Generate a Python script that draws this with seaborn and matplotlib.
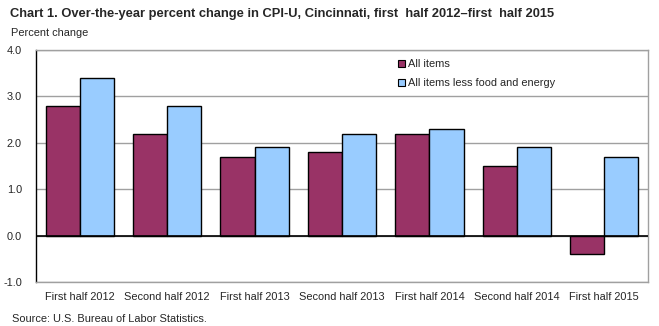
import matplotlib
matplotlib.use("Agg")
import matplotlib.pyplot as plt
import seaborn as sns
import pandas as pd

categories = ["First half 2012", "Second half 2012", "First half 2013", "Second half 2013",
              "First half 2014", "Second half 2014", "First half 2015"]
all_items = [2.8, 2.2, 1.7, 1.8, 2.2, 1.5, -0.4]
core_items = [3.4, 2.8, 1.9, 2.2, 2.3, 1.9, 1.7]
series_names = ["All items", "All items less food and energy"]
yticks = [-1.0, 0.0, 1.0, 2.0, 3.0, 4.0]

df = pd.DataFrame({
    "period": categories * 2,
    "value": all_items + core_items,
    "series": [series_names[0]] * len(categories) + [series_names[1]] * len(categories),
})

sns.set_style("white")
plt.rcParams["font.family"] = ["Liberation Sans", "DejaVu Sans"]

fs = 7.9
fig = plt.figure(figsize=(6.59, 3.26), dpi=100)
ax = fig.add_axes([36/659, 1-282/326, (648-36)/659, (282-50)/326])

sns.barplot(data=df, x="period", y="value", hue="series", order=categories,
            hue_order=series_names, palette=["#993366", "#99CCFF"], saturation=1,
            width=0.78, edgecolor="black", linewidth=1.0, ax=ax, errorbar=None, zorder=3)

ax.set_ylim(-1.0, 4.0)
ax.set_yticks(yticks)
ax.set_yticklabels([f"{v:.1f}" for v in yticks], fontsize=fs)
ax.set_xlim(-0.5, len(categories) - 0.5)
ax.tick_params(axis="x", length=0, labelsize=fs, pad=7)
ax.tick_params(axis="y", length=3, width=1, color="black", direction="out", pad=7)
ax.set_xlabel("")
ax.set_ylabel("")
ax.yaxis.grid(True, color="#a0a0a0", linewidth=1)
ax.set_axisbelow(True)
ax.axhline(0, color="black", linewidth=1.2, zorder=4)

for side in ["top", "right", "bottom"]:
    ax.spines[side].set_color("#a0a0a0")
    ax.spines[side].set_linewidth(1)
ax.spines["left"].set_color("black")
ax.spines["left"].set_linewidth(1)

leg = ax.legend(loc="upper left", bbox_to_anchor=(0.585, 0.98), frameon=False,
                fontsize=fs, handlelength=0.6, handleheight=0.6, handletextpad=0.3,
                labelspacing=0.85, borderaxespad=0)
for h in leg.legend_handles:
    h.set_linewidth(0.8)

fig.text(10/659, 1-14/326, "Chart 1. Over-the-year percent change in CPI-U, Cincinnati, first  half 2012\u2013first  half 2015",
         fontsize=9.3, fontweight="bold", va="center", ha="left")
fig.text(11/659, 1-33/326, "Percent change", fontsize=fs, va="center", ha="left")
fig.text(12/659, 1-319/326, "Source: U.S. Bureau of Labor Statistics.", fontsize=fs, va="center", ha="left")

fig.savefig("out.png", dpi=100)
